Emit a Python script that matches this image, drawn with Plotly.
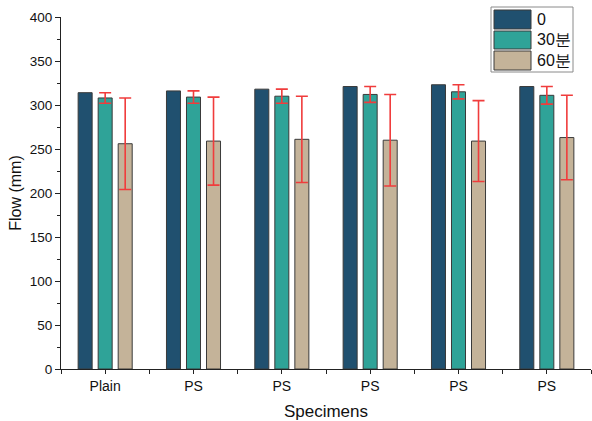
import plotly.graph_objects as go

# ---- data ----
categories = ["Plain", "PS", "PS", "PS", "PS", "PS"]
series_names = ["0", "30분", "60분"]
flow_0 = [314, 316, 318, 321, 323, 321]
flow_30 = [308, 309, 310, 312, 315, 311]
err_30 = [6, 7, 8, 9, 8, 10]
flow_60 = [256, 259, 261, 260, 259, 263]
err_60 = [52, 50, 49, 52, 46, 48]
y_ticks = [0, 50, 100, 150, 200, 250, 300, 350, 400]

colors = ["#20506F", "#2FA398", "#C4B399"]
edge = "#3a3a3a"
err_color = "#F03C3C"
FONT = "Liberation Sans, Arial, sans-serif"

x = list(range(len(categories)))

fig = go.Figure()
fig.add_trace(go.Bar(x=x, y=flow_0, name=series_names[0], marker=dict(color=colors[0], line=dict(color=edge, width=1)), showlegend=False))
fig.add_trace(go.Bar(x=x, y=flow_30, name=series_names[1], marker=dict(color=colors[1], line=dict(color=edge, width=1)),
                     error_y=dict(type="data", array=err_30, visible=True, color=err_color, thickness=1.6, width=6), showlegend=False))
fig.add_trace(go.Bar(x=x, y=flow_60, name=series_names[2], marker=dict(color=colors[2], line=dict(color=edge, width=1)),
                     error_y=dict(type="data", array=err_60, visible=True, color=err_color, thickness=1.6, width=6), showlegend=False))

W, H = 592, 421
L, R, T, B = 61, 1, 17, 52
pw, ph = W - L - R, H - T - B

def px(xp):
    return (xp - L) / pw

def py(yp):
    return (H - B - yp) / ph

# custom legend (large swatches, as in the reference)
shapes = [dict(type="rect", xref="paper", yref="paper", x0=px(491), x1=px(573), y0=py(72), y1=py(7),
               line=dict(color="#8a8a8a", width=1), fillcolor="white", layer="above")]
annotations = []
rows = [(10, 29), (31, 49), (51, 70)]
for (r0, r1), c, nm in zip(rows, colors, series_names):
    shapes.append(dict(type="rect", xref="paper", yref="paper", x0=px(494), x1=px(531), y0=py(r1), y1=py(r0),
                       line=dict(color=edge, width=1), fillcolor=c, layer="above"))
    annotations.append(dict(x=px(535), y=py((r0 + r1) / 2), xref="paper", yref="paper", text=nm, showarrow=False,
                            xanchor="left", yanchor="middle", font=dict(family=FONT, size=16, color="#111")))

fig.update_layout(
    width=W, height=H,
    margin=dict(l=L, r=R, t=T, b=B, pad=0),
    paper_bgcolor="white", plot_bgcolor="white",
    barmode="group", bargap=0.32, bargroupgap=0.3,
    font=dict(family=FONT, size=13, color="#111"),
    shapes=shapes, annotations=annotations,
    showlegend=False,
)
fig.update_xaxes(
    range=[-0.5, len(categories) - 0.5], tickmode="array", tickvals=x, ticktext=categories,
    showgrid=False, zeroline=False, showline=True, linecolor="#222", linewidth=1,
    ticks="outside", ticklen=4, tickcolor="#222",
    minor=dict(tickmode="linear", tick0=-0.5, dtick=1, ticks="outside", ticklen=4, tickcolor="#222", showgrid=False),
    title=dict(text="Specimens", font=dict(size=17), standoff=13),
    tickfont=dict(size=14),
)
fig.update_yaxes(
    range=[0, 400], tickmode="array", tickvals=y_ticks,
    showgrid=False, zeroline=False, showline=True, linecolor="#222", linewidth=1,
    ticks="outside", ticklen=5, tickcolor="#222",
    minor=dict(tickmode="linear", tick0=25, dtick=50, ticks="outside", ticklen=3, tickcolor="#222", showgrid=False),
    title=dict(text="Flow (mm)", font=dict(size=16), standoff=4),
    tickfont=dict(size=13.5),
)

fig.write_html("out.html")
